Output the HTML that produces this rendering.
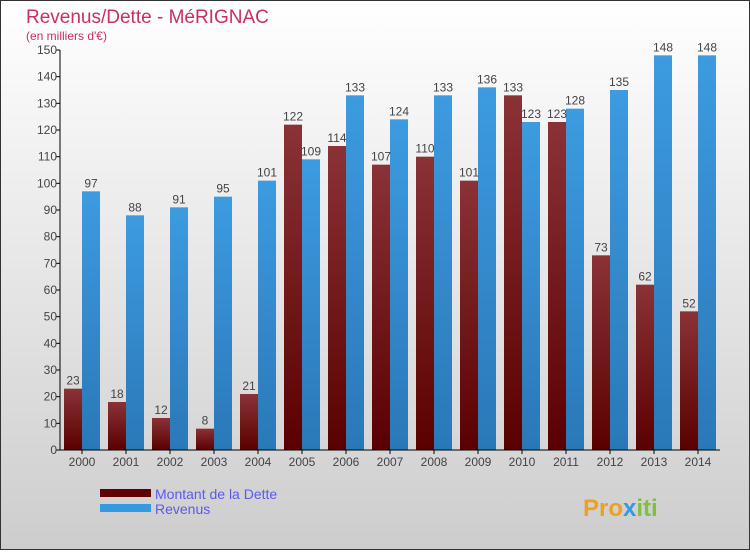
<!DOCTYPE html>
<html><head><meta charset="utf-8"><style>
body{margin:0}
svg text{font-family:"Liberation Sans",sans-serif}
</style></head><body>
<svg id="c" width="750" height="550" xmlns="http://www.w3.org/2000/svg">
<defs>
<linearGradient id="bg" x1="0" y1="0" x2="0" y2="1"><stop offset="0" stop-color="#ffffff"/><stop offset="1" stop-color="#cdcdcd"/></linearGradient>
<linearGradient id="gd" x1="0" y1="0" x2="0" y2="1"><stop offset="0" stop-color="#8a3236"/><stop offset="1" stop-color="#5a0000"/></linearGradient>
<linearGradient id="gr" x1="0" y1="0" x2="0" y2="1"><stop offset="0" stop-color="#3d9be0"/><stop offset="1" stop-color="#2a78b8"/></linearGradient>
</defs>
<rect x="0.5" y="0.5" width="749" height="549" fill="url(#bg)" stroke="#333"/>
<text x="26" y="23" font-size="19" fill="#c8305f">Revenus/Dette - MéRIGNAC</text>
<text x="26" y="40" font-size="12" fill="#c8305f">(en milliers d'€)</text>
<g id="plot"></g>
<rect x="100" y="489" width="51" height="8" fill="#600000"/>
<text x="155" y="499" font-size="14" fill="#5a5aee">Montant de la Dette</text>
<rect x="100" y="504" width="51" height="8" fill="#3399e0"/>
<text x="155" y="514" font-size="14" fill="#5a5aee">Revenus</text>
<text x="583" y="516" font-size="24" font-weight="bold" fill="#f0a020">Pro<tspan fill="#3399e0">x</tspan><tspan fill="#80c040">iti</tspan></text>
</svg>
<script>
const years=["2000","2001","2002","2003","2004","2005","2006","2007","2008","2009","2010","2011","2012","2013","2014"];
const dette=[23,18,12,8,21,122,114,107,110,101,133,123,73,62,52];
const revenus=[97,88,91,95,101,109,133,124,133,136,123,128,135,148,148];
const yTicks=[0,10,20,30,40,50,60,70,80,90,100,110,120,130,140,150];
(function(){
const NS="http://www.w3.org/2000/svg";
const g=document.getElementById('plot');
const x0=60,step=44,base=450,yTop=50,ymax=150;
const y=v=>base-(v/ymax)*(base-yTop);
function mk(t,a,txt){const e=document.createElementNS(NS,t);for(const k in a)e.setAttribute(k,a[k]);if(txt!==undefined)e.textContent=txt;g.appendChild(e);return e;}
yTicks.forEach(v=>{
  const l=mk('line',{x1:x0-4,x2:x0,y1:y(v),y2:y(v),stroke:'#000'});
  
  
  const t=mk('text',{x:x0-3,y:y(v)+4,'font-size':12,'text-anchor':'end',fill:'#444'},v);
  
  
});
years.forEach((yr,i)=>{
  const gx=x0+4+i*step;
  const d=mk('rect',{x:gx,y:y(dette[i]),width:18,height:base-y(dette[i]),fill:'url(#gd)'});
  
  
  const r=mk('rect',{x:gx+18,y:y(revenus[i]),width:18,height:base-y(revenus[i]),fill:'url(#gr)'});
  
  
  const dl=mk('text',{x:gx+9,y:y(dette[i])-4,'font-size':12,'text-anchor':'middle',fill:'#444'},dette[i]);
  
  
  const rl=mk('text',{x:gx+27,y:y(revenus[i])-4,'font-size':12,'text-anchor':'middle',fill:'#444'},revenus[i]);
  
  
  const tk=mk('line',{x1:gx+18,x2:gx+18,y1:base,y2:base+4,stroke:'#000'});
  
  
  const xl=mk('text',{x:gx+18,y:base+16,'font-size':12,'text-anchor':'middle',fill:'#444'},yr);
  
  
});
const ya=mk('line',{x1:x0,x2:x0,y1:yTop,y2:base,stroke:'#000'});


const xa=mk('line',{x1:x0,x2:x0+step*15,y1:base,y2:base,stroke:'#000'});


})();
</script>
</body></html>
